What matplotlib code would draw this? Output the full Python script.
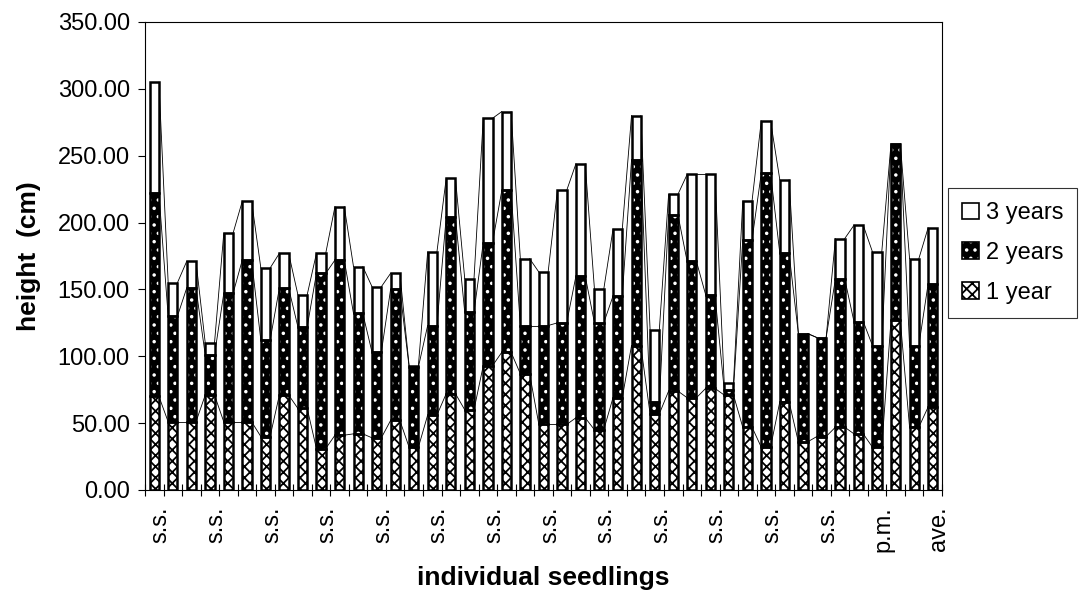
import numpy as np
import matplotlib
matplotlib.use("Agg")
import matplotlib.pyplot as plt
from matplotlib.patches import Patch
from matplotlib.legend_handler import HandlerTuple

plt.rcParams['font.family'] = ['Liberation Sans', 'DejaVu Sans']
plt.rcParams['hatch.linewidth'] = 1.3

# cumulative seedling height (cm) after 1, 2 and 3 years
year1 = [70, 51, 51, 71, 51, 51, 40, 71, 61, 31, 41, 42, 39, 52, 32, 56, 72, 60, 93, 103, 87, 49,
         49, 54, 45, 69, 108, 57, 74, 69, 76, 71, 47, 32, 66, 36, 40, 47, 42, 32, 127, 47, 62]
year2 = [222, 130, 151, 101, 147, 172, 112, 151, 122, 162, 172, 132, 103, 150, 92, 123, 204, 133, 185, 224, 123, 123,
         125, 160, 125, 145, 247, 66, 206, 171, 146, 75, 187, 237, 177, 117, 114, 158, 126, 108, 259, 108, 154]
year3 = [305, 155, 171, 110, 192, 216, 166, 177, 146, 177, 212, 167, 152, 162, 93, 178, 233, 158, 278, 283, 173, 163,
         224, 244, 150, 195, 280, 120, 221, 236, 236, 80, 216, 276, 232, 117, 114, 188, 198, 178, 259, 173, 196]
label_pos = [0, 3, 6, 9, 12, 15, 18, 21, 24, 27, 30, 33, 36, 39, 42]
label_txt = ['s.s.'] * 13 + ['p.m.', 'ave.']

y1 = np.array(year1, float)
y2 = np.array(year2, float)
y3 = np.array(year3, float)
x = np.arange(len(y1))
w = 0.5

fig = plt.figure(figsize=(10.89, 5.95), dpi=100)
ax = fig.add_axes([145 / 1089, 105 / 595, 797 / 1089, 468 / 595])

# series lines between adjacent bars
for top in (y1, y2, y3):
    for i in range(len(x) - 1):
        ax.plot([x[i] + w / 2, x[i + 1] - w / 2], [top[i], top[i + 1]],
                color='black', lw=0.6, zorder=1)

ax.bar(x, y1, w, color='white', edgecolor='black', hatch='xxx', lw=0, zorder=2)
ax.bar(x, y2 - y1, w, bottom=y1, color='black', edgecolor='white', hatch='..', lw=0, zorder=2)
ax.bar(x, y3 - y2, w, bottom=y2, color='white', lw=0, zorder=2)
for b, t in ((0, y1), (y1, y2), (y2, y3)):
    ax.bar(x, t - b, w, bottom=b, fill=False, edgecolor='black', lw=1.8, zorder=3)

ax.set_xlim(-0.5, len(x) - 0.5)
ax.set_ylim(0, 350)
ax.set_yticks(np.arange(0, 351, 50))
ax.set_yticklabels([f'{v:.2f}' for v in np.arange(0, 351, 50)], fontsize=17)
ax.set_xticks(np.array(label_pos) + 0.35)
ax.set_xticklabels(label_txt, rotation=90, fontsize=17)
ax.tick_params(axis='x', which='major', length=0, pad=12)
ax.set_xticks(np.arange(len(x) + 1) - 0.5, minor=True)
ax.tick_params(axis='x', which='minor', length=8, direction='inout', width=0.8)
ax.tick_params(axis='y', length=5, width=0.8, pad=6)
for s in ax.spines.values():
    s.set_linewidth(0.8)

ax.set_ylabel('height  (cm)', fontsize=19, fontweight='bold', labelpad=12)
ax.set_xlabel('individual seedlings', fontsize=19, fontweight='bold', labelpad=10)

outline = Patch(fill=False, edgecolor='black', lw=1.2)
h3 = Patch(facecolor='white', edgecolor='black', lw=1.2)
h2 = (Patch(facecolor='black', edgecolor='white', hatch='..', lw=0), outline)
h1 = (Patch(facecolor='white', edgecolor='black', hatch='xxx', lw=0), outline)
leg = fig.legend([h3, h2, h1], ['3 years', '2 years', '1 year'],
                 handler_map={tuple: HandlerTuple(ndivide=1, pad=0)},
                 loc='center left', bbox_to_anchor=(948 / 1089, 0.575),
                 fontsize=17, handlelength=0.7, handleheight=0.7, handletextpad=0.3,
                 labelspacing=0.75, borderpad=0.6, borderaxespad=0, fancybox=False,
                 frameon=True, edgecolor='black')
leg.get_frame().set_linewidth(0.8)

fig.savefig('out.png', dpi=100)
